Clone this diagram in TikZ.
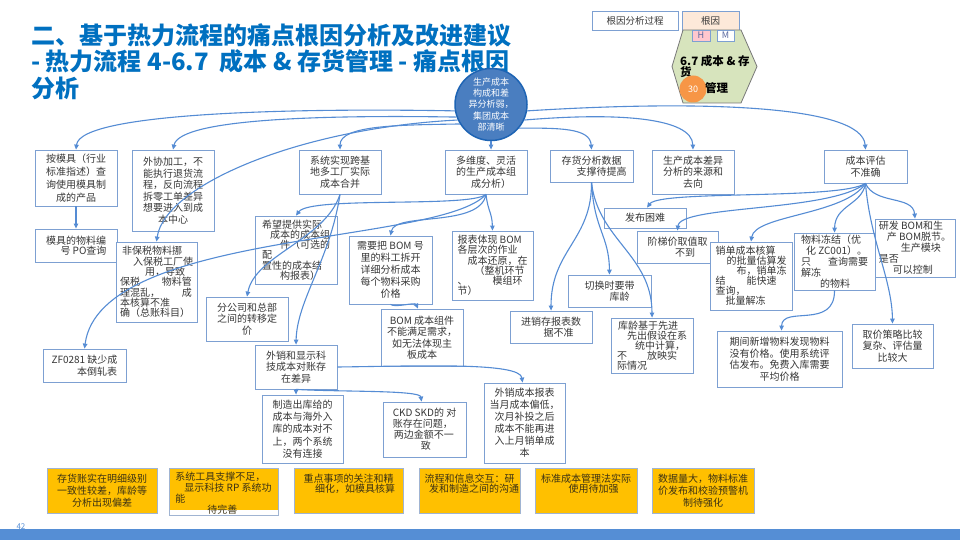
\documentclass[tikz,border=0pt]{standalone}
\usepackage{fontspec}
\newfontfamily\cjk{Noto Sans CJK SC}
\usetikzlibrary{arrows.meta}
\definecolor{boxblue}{RGB}{125,160,210}
\definecolor{lineblue}{RGB}{85,140,212}
\definecolor{titleblue}{RGB}{0,112,192}
\definecolor{txt}{RGB}{55,55,55}
\definecolor{ytxt}{RGB}{60,50,20}
\definecolor{ygold}{RGB}{255,192,0}
\definecolor{yedge}{RGB}{160,180,210}
\definecolor{corefill}{RGB}{74,126,192}
\definecolor{coreedge}{RGB}{30,100,180}
\definecolor{hexfill}{RGB}{215,228,189}
\definecolor{hexedge}{RGB}{120,120,120}
\definecolor{peach}{RGB}{253,233,217}
\definecolor{pinkh}{RGB}{255,199,206}
\definecolor{hmtext}{RGB}{90,105,160}
\definecolor{orangec}{RGB}{247,150,70}
\definecolor{barblue}{RGB}{85,142,213}
\newcommand\myfs[2]{\fontsize{#1}{#2}\selectfont}
\tikzset{
  bx/.style={draw=boxblue, line width=0.8pt, fill=white, font=\cjk\myfs{10}{11.5}, text=txt, align=center, inner sep=1pt},
  ybox/.style={draw=yedge, line width=1pt, fill=ygold, inner sep=0pt},
  ytext/.style={text=ytxt, align=center, inner sep=0pt},
  conn/.style={draw=lineblue, line width=1.1pt, -{Triangle[length=5pt,width=4.5pt]}},
  hm/.style={draw=boxblue, line width=0.8pt, inner sep=0pt, font=\cjk\myfs{9}{10}, text=hmtext},
  hextext/.style={anchor=base west, inner sep=0pt, font=\cjk\bfseries\myfs{11.5}{13}, text=black},
}
\newcommand\bx[7][]{%
  \pgfmathsetmacro\mybw{#5-#3}%
  \pgfmathsetmacro\mybh{#6-#4}%
  \pgfmathsetmacro\mycx{(#3+#5)/2}%
  \pgfmathsetmacro\mycy{(#4+#6)/2}%
  \node[bx,minimum width=\mybw pt,minimum height=\mybh pt,#1] (#2) at (\mycx,\mycy) {#7};}
\newcommand\yb[7][12]{%
  \pgfmathsetmacro\mybw{#5-#3}%
  \pgfmathsetmacro\mybh{#6-#4}%
  \pgfmathsetmacro\mycx{(#3+#5)/2}%
  \pgfmathsetmacro\mycy{(#4+#6)/2}%
  \pgfmathsetmacro\myty{#4+5.5}%
  \node[ybox,minimum width=\mybw pt,minimum height=\mybh pt] (#2) at (\mycx,\mycy) {};
  \node[ytext,font=\cjk\myfs{10}{#1},anchor=north] (#2t) at (\mycx,\myty) {#7};}
\begin{document}
\begin{tikzpicture}[x=1pt,y=-1pt]
\useasboundingbox (0,0) rectangle (960,540);
\fill[white] (0,0) rectangle (960,540);

% title
\node[anchor=north west, inner sep=0pt, text=titleblue, font=\cjk\bfseries\myfs{24}{26.5}, align=left] (title) at (31,23)
  {二、基于热力流程的痛点根因分析及改进建议\\- 热力流程 4-6.7\ \ 成本 \& 存货管理 - 痛点根因\\分析};

% top right legend
\node[draw=boxblue, line width=0.8pt, fill=white, minimum width=86pt, minimum height=19pt, inner sep=0pt, font=\cjk\myfs{9.5}{11}, text=txt] (rcp) at (635,20.5) {根因分析过程};
\node[draw=boxblue, line width=0.8pt, fill=peach, minimum width=57pt, minimum height=19pt, inner sep=0pt, font=\cjk\myfs{9.5}{11}, text=txt] (rc) at (710.5,20.5) {根因};
\draw[draw=hexedge, fill=hexfill, line width=0.8pt] (683,30) -- (741,30) -- (757,66.5) -- (741,103) -- (683,103) -- (672,66.5) -- cycle;
\node[hm, fill=pinkh, minimum width=18pt, minimum height=11pt] (hb) at (701,35.5) {H};
\node[hm, fill=white, minimum width=17pt, minimum height=11pt] (mb) at (725.5,35.5) {M};
\node[hextext] (ht1) at (680,66) {6.7 成本 \& 存};
\node[hextext] (ht2) at (680,76.5) {货};
\node[circle, fill=orangec, minimum size=27pt, inner sep=0pt, text=white, font=\cjk\myfs{9}{10}] (oc) at (693,89) {30};
\node[hextext] (ht3) at (705,92.5) {管理};

% boxes
\bx[font=\cjk\myfs{10}{13}]{A1}{35}{150}{117}{206}{按模具（行业\\标准指述）查\\询使用模具制\\成的产品}
\bx[font=\cjk\myfs{10}{10.5}]{A2}{35}{229}{117}{262}{模具的物料编\\\hspace*{1.5em}号 PO查询}
\bx{B1}{132}{150}{214}{231}{外协加工，不\\能执行退货流\\程，反向流程\\拆零工单差异\\想要进入到成\\本中心}
\bx[align=left,font=\cjk\myfs{10}{10.3}]{B2}{116}{242}{197}{322}{\hspace*{0.2em}非保税物料挪\\\hspace*{1.3em}入保税工厂使\\\hspace*{2.5em}用，导致\\保税\hspace*{2.2em}物料管\\理混乱，\hspace*{2.2em}成\\本核算不准\\确（总账科目）}
\bx{C1}{299}{150}{381}{194}{系统实现跨基\\地多工厂实际\\成本合并}
\bx[align=left,font=\cjk\myfs{10}{10.3}]{C2}{255}{216}{337}{284}{希望提供实际\\\hspace*{0.8em}成本的成本组\\\hspace*{1.8em}件（可选的\\配\\置性的成本结\\\hspace*{1.8em}构报表）}
\bx{C3}{206}{297}{288}{341}{分公司和总部\\之间的转移定\\价}
\bx{D1}{445}{150}{527}{194}{多维度、灵活\\的生产成本组\\\hspace*{1em}成分析）}
\bx[font=\cjk\myfs{10}{12}]{D2}{349}{236}{432}{304}{需要把 BOM 号\\里的料工拆开\\详细分析成本\\每个物料采购\\价格}
\bx[align=left,font=\cjk\myfs{10}{10.3}]{D3}{452}{231}{533}{300}{报表体现 BOM\\各层次的作业\\\hspace*{1em}成本还原，在\\\hspace*{1.7em}（整机环节\\、\hspace*{2.5em}模组环\\节）}
\bx{D4}{381}{309}{463}{366}{BOM 成本组件\\不能满足需求，\\如无法体现主\\板成本}
\bx{E1}{550}{150}{633}{182}{存货分析数据\\\hspace*{2em}支撑待提高}
\bx{E2}{568}{275}{651}{307}{切换时要带\\\hspace*{2em}库龄}
\bx{E3}{510}{311}{592}{343}{进销存报表数\\\hspace*{1.5em}据不准}
\bx[align=left,font=\cjk\myfs{10}{10}]{E4}{611}{318}{693}{373}{\hspace*{0.1em}库龄基于先进\\\hspace*{1em}先出假设在系\\\hspace*{1.8em}统中计算，\\不\hspace*{2em}放映实\\际情况}
\bx{F1}{652}{150}{734}{194}{生产成本差异\\分析的来源和\\去向}
\bx{G1}{824}{150}{907}{183}{成本评估\\不准确}
\bx{G2}{604}{208}{686}{228}{发布困难}
\bx{G3}{637}{231}{718}{263}{阶梯价取值取\\\hspace*{1.5em}不到}
\bx[align=left,font=\cjk\myfs{10}{10}]{G4}{710}{242}{792}{310}{销单成本核算\\\hspace*{1.1em}的批量估算发\\\hspace*{2.1em}布，销单冻\\结\hspace*{2.1em}能快速\\查询，\\\hspace*{1em}批量解冻}
\bx[align=left,font=\cjk\myfs{10}{11}]{G5}{794}{233}{875}{290}{物料冻结（优\\\hspace*{0.5em}化 ZC001）。\\只\hspace*{1.7em}查询需要\\解冻\\\hspace*{1.9em}的物料}
\bx[align=left,font=\cjk\myfs{10}{11}]{G6}{875}{219}{955}{277}{研发 BOM和生\\\hspace*{0.8em}产 BOM脱节。\\\hspace*{2.2em}生产模块\\是否\\\hspace*{1.4em}可以控制}
\bx{G7}{717}{331}{842}{387}{期间新增物料发现物料\\没有价格。使用系统评\\估发布。免费入库需要\\平均价格}
\bx{G8}{852}{324}{933}{368}{取价策略比较\\复杂、评估量\\比较大}
\bx{H1}{43}{349}{126}{382}{ZF0281 缺少成\\\hspace*{2.5em}本倒轧表}
\bx{H2}{255}{345}{337}{389}{外销和显示科\\技成本对账存\\在差异}
\bx[font=\cjk\myfs{10}{12.3}]{H3}{262}{395}{343}{463}{制造出库给的\\成本与海外入\\库的成本对不\\上，两个系统\\没有连接}
\bx[align=left,font=\cjk\myfs{10}{11}]{H4}{383}{402}{466}{457}{CKD SKD的 对\\账存在问题，\\\hspace*{0.1em}两边金额不一\\\hspace*{2.8em}致}
\bx[font=\cjk\myfs{10}{12}]{H5}{484}{383}{565}{463}{外销成本报表\\当月成本偏低，\\次月补投之后\\成本不能再进\\入上月销单成\\本}

% yellow root-cause boxes
\yb[12]{Y1}{47}{468}{157}{513}{存货账实在明细级别\\一致性较差，库龄等\\分析出现偏差}
\node[ybox, fill=white, minimum width=109pt, minimum height=47pt] (Y2) at (223.5,491.5) {};
\fill[ygold] (169.5,468.5) rectangle (277.5,510);
\node[ytext, font=\cjk\myfs{10}{11}, anchor=north, align=left] (Y2t) at (223.5,472) {系统工具支撑不足，\\\hspace*{0.9em}显示科技 RP 系统功\\能\\\hspace*{3.2em}待完善};
\yb[10.5]{Y3}{294}{468}{403}{513}{重点事项的关注和精\\\hspace*{1.3em}细化，如模具核算}
\yb[10.5]{Y4}{419}{468}{520}{513}{流程和信息交互：研\\\hspace*{0.9em}发和制造之间的沟通}
\yb[10.5]{Y5}{535}{468}{637}{513}{标准成本管理法实际\\\hspace*{1.5em}使用待加强}
\yb[12]{Y6}{652}{468}{754}{513}{数据量大，物料标准\\价发布和校验预警机\\制待强化}

% central node
\node[circle, fill=corefill, draw=coreedge, line width=1.5pt, minimum size=72pt, inner sep=0pt, text=white, font=\cjk\myfs{9}{11.3}, align=center] (core) at (491,104.5) {生产成本\\构成和差\\异分析弱，\\集团成本\\部清晰};

% connectors from the central node
\draw[conn] (core.190) .. controls (300,108) and (80,112) .. (A1.north);
\draw[conn] (core.200) .. controls (330,115) and (180,118) .. (B1.north);
\draw[conn] (core.212) .. controls (400,125) and (340,125) .. (C1.north);
\draw[conn] (core.205) .. controls (300,128) and (165,185) .. (B2.north);
\draw[conn] (core.south) -- (core.south |- D1.north);
\draw[conn] (core.320) .. controls (560,128) and (590,128) .. (E1.north);
\draw[conn] (core.335) .. controls (620,112) and (692,118) .. (F1.north);
\draw[conn] (core.350) .. controls (700,100) and (862,105) .. (G1.north);

% second level
\draw[conn] (A1.south) -- (A2.north);
\draw[conn] (C1.south) .. controls (330,260) and (297,300) .. (H2.north);
\draw[conn] (C1.south) .. controls (325,240) and (255,255) .. (C3.north);
\draw[conn] (D1.south) .. controls (470,208) and (310,196) .. (C2.north);
\draw[conn] (D1.south) .. controls (480,228) and (395,212) .. (D2.north);
\draw[conn] (D1.south) .. controls (488,212) and (492,212) .. (D3.north);
\draw[conn] (D1.south) .. controls (440,245) and (100,230) .. (H1.north);
\draw[conn] (D2.south) .. controls (395,308) and (415,302) .. ([xshift=-4pt]D4.north);
\draw[conn] (E1.south) .. controls (592,240) and (551,250) .. (E3.north);
\draw[conn] (E1.south) .. controls (594,230) and (609,235) .. (E2.north);
\draw[conn] (E1.south) .. controls (598,240) and (652,255) .. (E4.north);
\draw[conn] (G1.south) .. controls (840,200) and (660,190) .. ([xshift=2pt]G2.north);
\draw[conn] (G1.south) .. controls (830,212) and (680,205) .. (G3.north);
\draw[conn] (G1.south) .. controls (845,215) and (755,215) .. (G4.north);
\draw[conn] (G1.south) .. controls (862,205) and (835,205) .. (G5.north);
\draw[conn] (G1.south) .. controls (875,205) and (913,195) .. (G6.north);
\draw[conn] (G1.south) .. controls (870,240) and (892,280) .. (G8.north);
\draw[conn] (G5.south) .. controls (835,330) and (782,305) .. ([xshift=2pt]G7.north);
\draw[conn] (H2.east) .. controls (420,366) and (520,362) .. ([xshift=-2pt]H5.north);
\draw[conn] (H2.south) -- (H2.south |- H3.north);
\draw[conn] (H2.south) .. controls (340,392) and (420,390) .. ([xshift=-3pt]H4.north);

% footer
\fill[barblue] (0,529) rectangle (960,540);
\node[font=\cjk\myfs{8}{9}, text=barblue, inner sep=0pt] (pg) at (21,527) {42};
\end{tikzpicture}
\end{document}
